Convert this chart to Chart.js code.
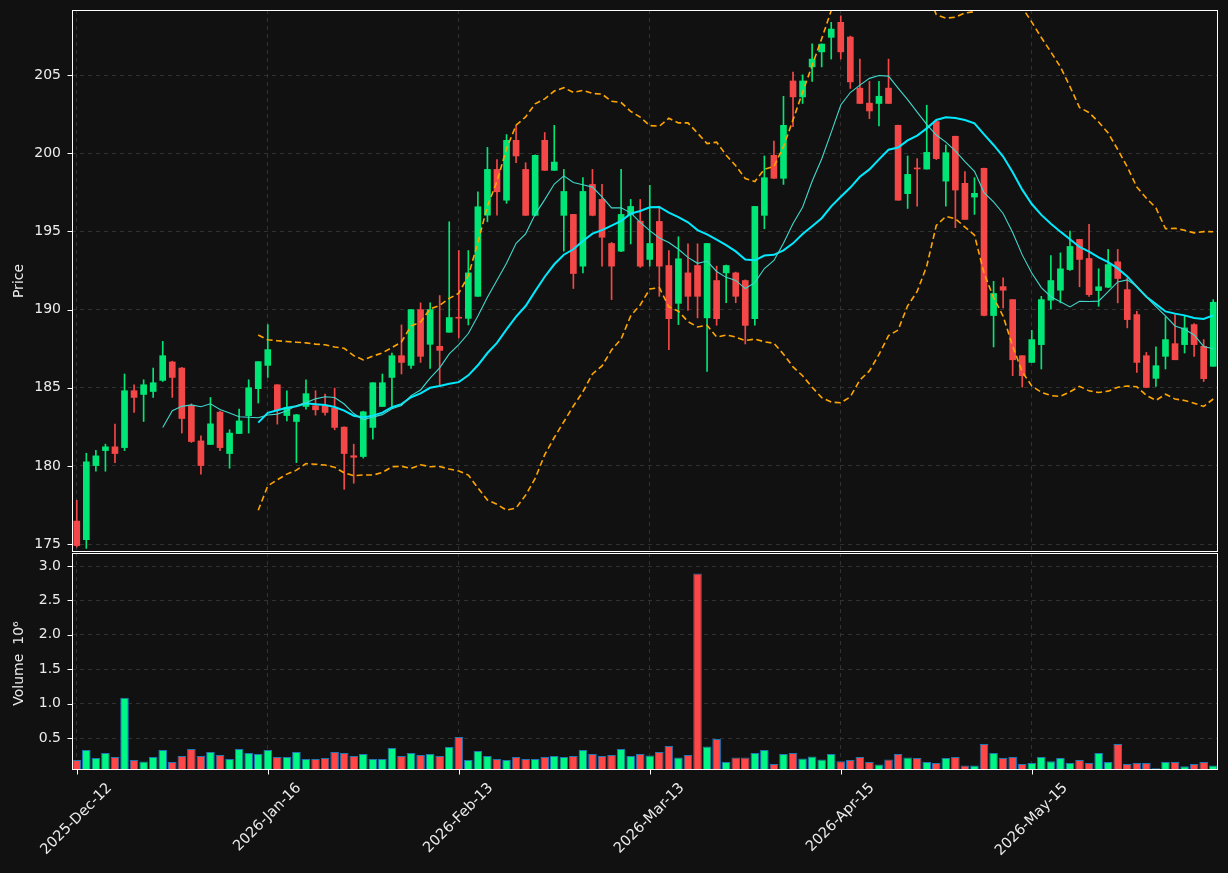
<!DOCTYPE html>
<html>
<head>
<meta charset="utf-8">
<script src="https://cdn.jsdelivr.net/npm/chart.js@4.4.1/dist/chart.umd.min.js"></script>
<style>
  html, body { margin: 0; padding: 0; background: #111111; }
  #wrap { position: relative; width: 1228px; height: 873px; background: #111111; }
  #priceChart { position: absolute; left: 0; top: 0; }
  #volChart { position: absolute; left: 0; top: 553px; }
</style>
</head>
<body>
<div id="wrap">
  <canvas id="priceChart" width="1228" height="553"></canvas>
  <canvas id="volChart" width="1228" height="320"></canvas>
</div>
<script>
// daily OHLC
const opens = [
  176.47, 175.28, 180.02, 180.98, 181.22, 181.17, 184.81, 184.57, 184.76, 185.47,
  186.65, 186.26, 183.85, 181.6, 181.37, 183.44, 180.79, 182.07, 183.21, 184.94,
  186.43, 185.19, 183.22, 182.84, 183.8, 183.85, 183.85, 183.7, 182.48, 180.65,
  180.6, 182.46, 183.8, 185.66, 187.05, 186.43, 190.0, 187.78, 187.65, 188.55,
  189.5, 189.44, 190.85, 196.04, 198.97, 197.0, 200.83, 198.97, 196.03, 200.83,
  198.91, 196.03, 196.09, 192.78, 198.01, 197.05, 194.23, 193.74, 196.09, 195.66,
  193.21, 195.64, 192.82, 190.4, 192.35, 192.82, 189.47, 191.86, 192.35, 192.35,
  191.86, 189.42, 196.03, 199.87, 198.4, 204.63, 203.61, 205.53, 206.49, 207.42,
  208.38, 207.44, 204.17, 203.21, 203.19, 204.17, 201.79, 197.42, 199.05, 198.99,
  202.03, 198.22, 201.09, 198.08, 197.2, 199.04, 189.62, 191.47, 190.64, 187.05,
  186.62, 187.76, 190.6, 191.24, 192.56, 194.49, 193.27, 191.22, 191.43, 193.06,
  191.28, 189.68, 187.05, 185.6, 187.01, 187.82, 187.76, 189.04, 187.65, 186.37
];
const highs = [
  177.8, 180.81, 181.0, 181.39, 182.67, 185.88, 185.19, 185.51, 186.26, 187.97,
  186.7, 186.3, 183.97, 181.92, 184.38, 183.5, 182.31, 183.63, 185.51, 186.67,
  189.04, 185.2, 184.81, 183.3, 185.51, 184.81, 184.6, 184.98, 182.5, 181.39,
  183.5, 185.32, 185.88, 187.22, 189.02, 190.0, 190.43, 190.43, 190.9, 195.62,
  193.78, 193.78, 197.54, 200.38, 199.6, 201.2, 201.79, 199.4, 199.9, 201.33,
  201.79, 198.97, 196.1, 198.44, 198.97, 198.01, 194.3, 198.97, 197.05, 197.05,
  197.95, 196.62, 193.78, 194.66, 194.21, 194.21, 194.23, 192.78, 192.85, 192.4,
  191.9, 196.6, 199.83, 200.79, 203.65, 205.2, 205.02, 207.0, 207.0, 208.38,
  208.8, 207.5, 206.03, 204.6, 204.6, 206.03, 201.8, 199.83, 199.66, 203.08,
  202.1, 200.53, 201.1, 198.83, 198.44, 199.05, 191.81, 192.03, 190.64, 187.05,
  188.67, 190.85, 193.46, 193.63, 195.02, 194.5, 195.45, 192.61, 193.85, 193.85,
  192.03, 189.89, 187.26, 187.61, 189.53, 189.68, 189.57, 189.1, 188.08, 190.64
];
const lows = [
  174.8, 174.72, 179.66, 179.66, 180.21, 180.98, 183.42, 182.84, 184.38, 185.4,
  184.38, 182.1, 181.5, 179.47, 181.37, 180.98, 179.85, 182.07, 182.1, 184.02,
  185.66, 182.67, 182.88, 180.21, 183.63, 183.25, 183.25, 182.31, 178.5, 178.89,
  180.5, 181.71, 183.8, 183.8, 185.88, 186.24, 186.62, 186.24, 185.08, 188.55,
  188.19, 189.02, 190.85, 195.62, 196.04, 196.8, 199.4, 196.03, 196.0, 198.9,
  198.9, 193.74, 191.35, 192.35, 196.0, 192.78, 190.64, 193.7, 194.2, 192.7,
  192.78, 190.85, 187.44, 189.04, 189.94, 189.47, 186.05, 189.0, 190.44, 190.44,
  187.8, 189.0, 195.17, 198.4, 198.01, 201.7, 203.19, 204.6, 205.53, 206.03,
  206.03, 204.15, 203.19, 202.22, 201.75, 203.19, 197.0, 196.47, 196.62, 198.99,
  199.6, 196.62, 195.24, 195.77, 196.09, 189.6, 187.61, 190.11, 185.77, 185.04,
  186.62, 186.2, 190.04, 190.43, 192.5, 191.46, 190.85, 190.21, 191.4, 190.43,
  188.83, 185.98, 185.0, 185.08, 186.2, 186.79, 187.22, 187.01, 185.4, 186.37
];
const closes = [
  174.9, 180.26, 180.64, 181.22, 180.79, 184.81, 184.38, 185.19, 185.32, 187.05,
  185.66, 183.03, 181.56, 180.02, 182.69, 181.17, 182.1, 182.88, 185.0, 186.67,
  187.44, 183.59, 183.74, 183.27, 184.62, 183.59, 183.42, 182.46, 180.79, 180.55,
  183.46, 185.32, 185.32, 187.05, 186.62, 190.0, 187.01, 190.0, 187.39, 189.49,
  189.45, 192.35, 196.58, 198.97, 197.54, 200.83, 199.83, 196.03, 199.87, 198.91,
  199.44, 197.56, 192.31, 197.56, 196.03, 194.63, 192.78, 196.09, 196.6, 192.78,
  194.23, 192.78, 189.42, 193.25, 190.85, 190.85, 194.23, 189.42, 192.82, 190.85,
  188.99, 196.6, 198.44, 198.4, 201.79, 203.61, 204.63, 206.03, 206.99, 207.95,
  206.49, 204.57, 203.19, 202.71, 203.65, 203.19, 197.0, 198.65, 199.0, 200.06,
  199.66, 200.04, 197.65, 195.77, 197.44, 189.62, 191.03, 191.24, 186.79, 185.77,
  188.08, 190.64, 191.86, 192.61, 194.04, 193.21, 190.96, 191.46, 192.88, 191.99,
  189.36, 186.62, 185.02, 186.41, 188.08, 186.79, 188.83, 187.76, 185.58, 190.47
];
// volume in millions
const volumes = [
  0.179, 0.325, 0.208, 0.281, 0.223, 1.084, 0.179, 0.16, 0.223, 0.325,
  0.15, 0.237, 0.34, 0.237, 0.296, 0.252, 0.194, 0.34, 0.281, 0.267,
  0.325, 0.223, 0.223, 0.296, 0.194, 0.194, 0.208, 0.296, 0.281, 0.237,
  0.267, 0.194, 0.194, 0.354, 0.237, 0.281, 0.252, 0.267, 0.237, 0.369,
  0.515, 0.179, 0.31, 0.237, 0.194, 0.179, 0.223, 0.194, 0.194, 0.223,
  0.237, 0.223, 0.237, 0.325, 0.267, 0.237, 0.252, 0.34, 0.237, 0.267,
  0.247, 0.296, 0.383, 0.218, 0.252, 2.893, 0.378, 0.485, 0.15, 0.218,
  0.218, 0.281, 0.325, 0.121, 0.267, 0.281, 0.203, 0.232, 0.189, 0.267,
  0.164, 0.179, 0.223, 0.15, 0.116, 0.189, 0.267, 0.218, 0.208, 0.15,
  0.135, 0.208, 0.223, 0.101, 0.101, 0.412, 0.281, 0.208, 0.223, 0.121,
  0.135, 0.223, 0.164, 0.208, 0.135, 0.179, 0.135, 0.281, 0.15, 0.412,
  0.121, 0.135, 0.135, 0.062, 0.15, 0.15, 0.091, 0.121, 0.15, 0.101
];
const tickIndex = [0, 20, 40, 60, 80, 100];
const tickLabels = ['2025-Dec-12', '2026-Jan-16', '2026-Feb-13', '2026-Mar-13', '2026-Apr-15', '2026-May-15'];

const upCandle = '#00e676';
const downCandle = '#f44848';
const upVol = '#00f587';
const downVol = '#ff4747';
const textColor = '#ececec';
const gridColor = '#3a3a3a';

Chart.defaults.font.family = '"DejaVu Sans", sans-serif';
Chart.defaults.font.size = 14;
Chart.defaults.color = textColor;

const idx = closes.map((_, i) => i);
const isUp = idx.map(i => closes[i] >= opens[i]);

// indicators from the closes: 10 and 20 day means, 20 day bands (2 std)
function rollMean(arr, n) {
  return arr.map((_, i) => {
    if (i < n - 1) return null;
    let s = 0;
    for (let k = i - n + 1; k <= i; k++) s += arr[k];
    return s / n;
  });
}
function rollBand(arr, n, mult) {
  const m = rollMean(arr, n);
  return arr.map((_, i) => {
    if (m[i] === null) return null;
    let s = 0;
    for (let k = i - n + 1; k <= i; k++) s += (arr[k] - m[i]) ** 2;
    return m[i] + mult * Math.sqrt(s / n);
  });
}
const ma10 = rollMean(closes, 10);
const ma20 = rollMean(closes, 20);
const bbUpper = rollBand(closes, 20, 2);
const bbLower = rollBand(closes, 20, -2);

function keepDateTicks(scale) {
  scale.ticks = scale.ticks.filter(t => tickIndex.includes(t.value));
}

// white frame, tick marks, rotated date labels and axis titles
const frame = {
  id: 'frame',
  afterDraw(chart, args, opts) {
    const ctx = chart.ctx;
    const a = chart.chartArea;
    ctx.save();
    ctx.strokeStyle = '#ffffff';
    ctx.lineWidth = 1;
    ctx.strokeRect(a.left + 0.5, a.top + 0.5, a.right - a.left - 1, a.bottom - a.top - 1);
    const ys = chart.scales.y;
    ys.ticks.forEach(t => {
      const y = Math.round(ys.getPixelForValue(t.value)) + 0.5;
      ctx.beginPath();
      ctx.moveTo(a.left - 4.5, y);
      ctx.lineTo(a.left, y);
      ctx.stroke();
    });
    ctx.fillStyle = textColor;
    ctx.font = '14px "DejaVu Sans"';
    ctx.textAlign = 'center';
    ctx.textBaseline = 'middle';
    ctx.save();
    ctx.translate(19, (a.top + a.bottom) / 2 + (opts.shift || 0));
    ctx.rotate(-Math.PI / 2);
    ctx.fillText(opts.title, 0, 0);
    ctx.restore();
    if (opts.dates) {
      const xs = chart.scales.x;
      ctx.font = '14.5px "DejaVu Sans"';
      tickIndex.forEach((ix, k) => {
        const x = Math.round(xs.getPixelForValue(ix)) + 0.5;
        ctx.beginPath();
        ctx.moveTo(x, a.bottom);
        ctx.lineTo(x, a.bottom + 4.5);
        ctx.stroke();
        const w = ctx.measureText(tickLabels[k]).width;
        const half = (w + 11) * Math.SQRT1_2 / 2;
        ctx.save();
        ctx.translate(x - 1, a.bottom + 12 + half);
        ctx.rotate(-Math.PI / 4);
        ctx.fillText(tickLabels[k], 0, 0);
        ctx.restore();
      });
    }
    ctx.restore();
  }
};

const lineBase = { type: 'line', pointRadius: 0, tension: 0, spanGaps: false, fill: false };

new Chart(document.getElementById('priceChart'), {
  type: 'bar',
  data: {
    labels: idx,
    datasets: [
      {
        data: idx.map(i => [lows[i], highs[i]]),
        backgroundColor: idx.map(i => isUp[i] ? upCandle : downCandle),
        barThickness: 1, grouped: false, order: 3, borderWidth: 0
      },
      {
        data: idx.map(i => [opens[i], closes[i]]),
        backgroundColor: idx.map(i => isUp[i] ? upCandle : downCandle),
        barThickness: 6, minBarLength: 1, grouped: false, order: 2, borderWidth: 0
      },
      Object.assign({}, lineBase, { data: ma10, borderColor: '#40d8cc', borderWidth: 1.1, order: 1 }),
      Object.assign({}, lineBase, { data: ma20, borderColor: '#00eaff', borderWidth: 2, order: 1 }),
      Object.assign({}, lineBase, { data: bbUpper, borderColor: '#ffa500', borderWidth: 1.6, borderDash: [6, 3.5], order: 0 }),
      Object.assign({}, lineBase, { data: bbLower, borderColor: '#ffa500', borderWidth: 1.6, borderDash: [6, 3.5], order: 0 })
    ]
  },
  options: {
    responsive: false,
    animation: false,
    events: [],
    layout: { padding: { top: 10, right: 10, bottom: 1, left: 0 } },
    plugins: { legend: { display: false }, tooltip: { enabled: false }, frame: { title: 'Price' } },
    scales: {
      x: {
        type: 'category', offset: true,
        grid: { offset: false, color: gridColor, lineWidth: 0.8, drawTicks: false, borderDash: [4, 4] },
        border: { display: false, dash: [4, 4] },
        ticks: { display: false, autoSkip: false },
        afterBuildTicks: keepDateTicks,
        afterFit: s => { s.height = 0; s.paddingLeft = 0; s.paddingRight = 0; }
      },
      y: {
        min: 174.49, max: 209.17,
        ticks: { stepSize: 5, includeBounds: false, padding: 11, color: textColor },
        grid: { color: gridColor, lineWidth: 0.8, drawTicks: false, borderDash: [4, 4] },
        border: { display: false, dash: [4, 4] },
        afterFit: s => { s.width = 72; s.paddingTop = 0; s.paddingBottom = 0; }
      }
    }
  },
  plugins: [frame]
});

new Chart(document.getElementById('volChart'), {
  type: 'bar',
  data: {
    labels: idx,
    datasets: [{
      data: volumes,
      backgroundColor: idx.map(i => isUp[i] ? upVol : downVol),
      borderColor: '#1f77b4', borderWidth: 1,
      barPercentage: 0.9, categoryPercentage: 1.0
    }]
  },
  options: {
    responsive: false,
    animation: false,
    events: [],
    layout: { padding: { top: 0, right: 10, bottom: 0, left: 0 } },
    plugins: { legend: { display: false }, tooltip: { enabled: false }, frame: { title: 'Volume  10\u2076', dates: true, shift: 2 } },
    scales: {
      x: {
        type: 'category', offset: true,
        grid: { offset: false, color: gridColor, lineWidth: 0.8, drawTicks: false, borderDash: [4, 4] },
        border: { display: false, dash: [4, 4] },
        ticks: { display: false, autoSkip: false },
        afterBuildTicks: keepDateTicks,
        afterFit: s => { s.height = 103; s.paddingLeft = 0; s.paddingRight = 0; }
      },
      y: {
        min: 0.035, max: 3.19,
        ticks: { stepSize: 0.5, includeBounds: false, padding: 11, color: textColor, callback: v => v.toFixed(1) },
        grid: { color: gridColor, lineWidth: 0.8, drawTicks: false, borderDash: [4, 4] },
        border: { display: false, dash: [4, 4] },
        afterFit: s => { s.width = 72; s.paddingTop = 0; s.paddingBottom = 0; }
      }
    }
  },
  plugins: [frame]
});
</script>
</body>
</html>
